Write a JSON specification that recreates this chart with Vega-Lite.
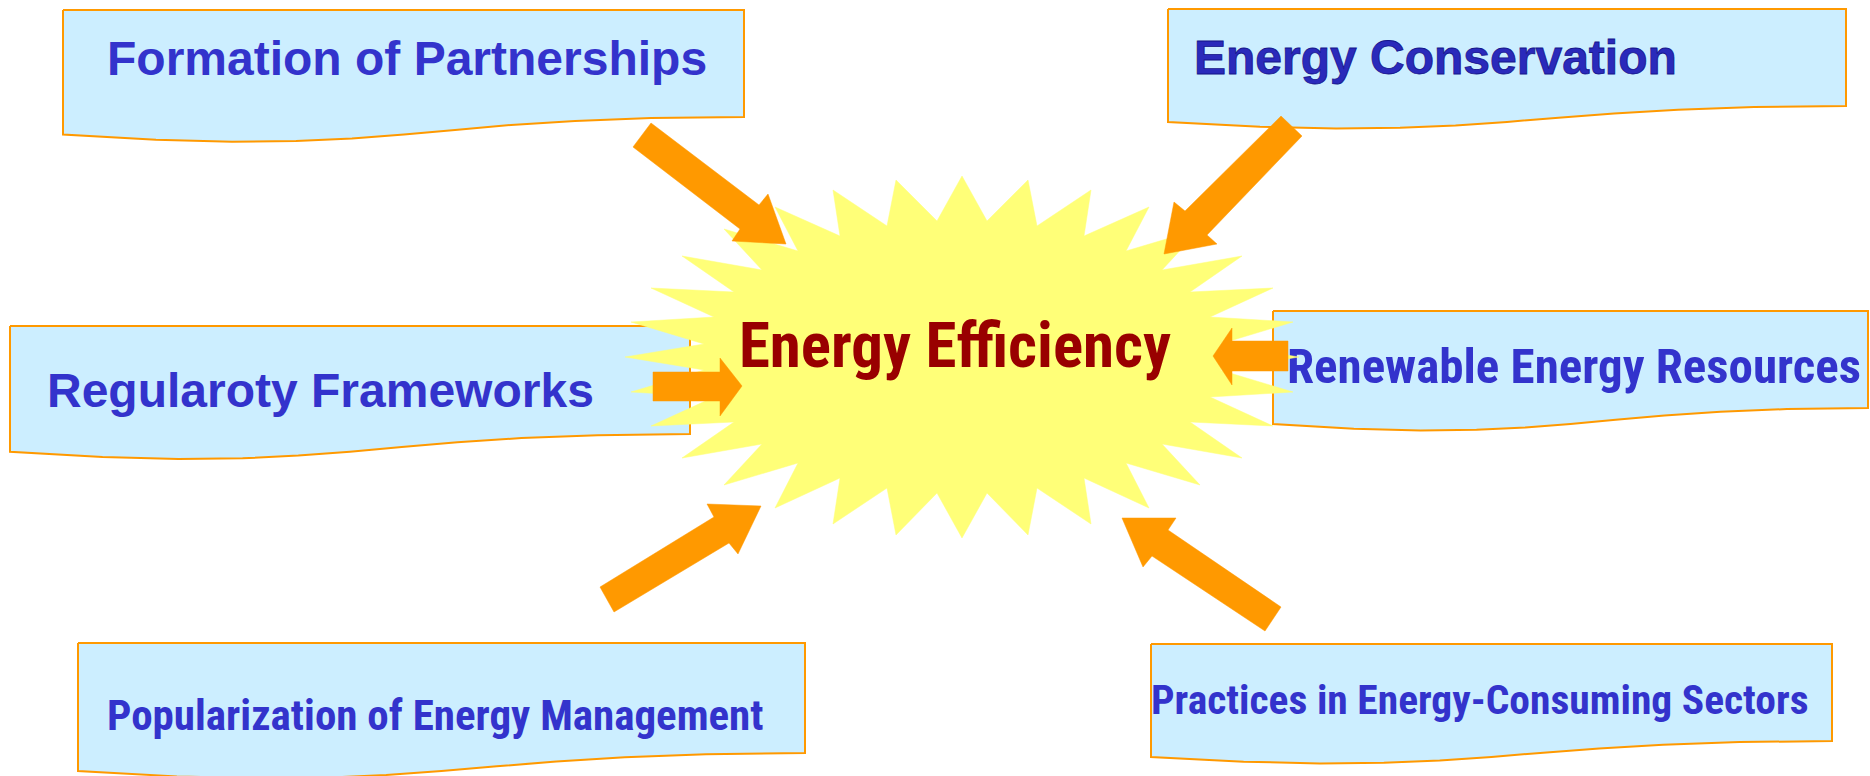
{
  "$schema": "https://vega.github.io/schema/vega-lite/v6.json",
  "width": 1870,
  "height": 776,
  "autosize": {"type": "none"},
  "padding": 0,
  "background": "#ffffff",
  "config": {"view": {"stroke": null}},
  "datasets": {
    "shapes": [
      {"kind":"box","id":"b1","o":0,"x":63,"y":10},{"kind":"box","id":"b1","o":1,"x":744,"y":10},{"kind":"box","id":"b1","o":2,"x":744,"y":117},{"kind":"box","id":"b1","o":3,"x":651,"y":118},{"kind":"box","id":"b1","o":4,"x":575,"y":121},{"kind":"box","id":"b1","o":5,"x":511,"y":125},{"kind":"box","id":"b1","o":6,"x":455,"y":130},{"kind":"box","id":"b1","o":7,"x":404,"y":134.5},{"kind":"box","id":"b1","o":8,"x":352,"y":138.4},{"kind":"box","id":"b1","o":9,"x":296,"y":141},{"kind":"box","id":"b1","o":10,"x":232,"y":141.7},{"kind":"box","id":"b1","o":11,"x":156,"y":139.7},{"kind":"box","id":"b1","o":12,"x":63,"y":134.6},{"kind":"box","id":"b1","o":13,"x":63,"y":10},
      {"kind":"box","id":"b2","o":0,"x":1168,"y":9},{"kind":"box","id":"b2","o":1,"x":1846,"y":9},{"kind":"box","id":"b2","o":2,"x":1846,"y":106},{"kind":"box","id":"b2","o":3,"x":1754,"y":107},{"kind":"box","id":"b2","o":4,"x":1678,"y":109.7},{"kind":"box","id":"b2","o":5,"x":1614,"y":113.5},{"kind":"box","id":"b2","o":6,"x":1558.5,"y":117.7},{"kind":"box","id":"b2","o":7,"x":1507,"y":121.9},{"kind":"box","id":"b2","o":8,"x":1455.5,"y":125.4},{"kind":"box","id":"b2","o":9,"x":1400,"y":127.8},{"kind":"box","id":"b2","o":10,"x":1336,"y":128.4},{"kind":"box","id":"b2","o":11,"x":1260,"y":126.7},{"kind":"box","id":"b2","o":12,"x":1168,"y":122},{"kind":"box","id":"b2","o":13,"x":1168,"y":9},
      {"kind":"box","id":"b3","o":0,"x":10,"y":326},{"kind":"box","id":"b3","o":1,"x":690,"y":326},{"kind":"box","id":"b3","o":2,"x":690,"y":434},{"kind":"box","id":"b3","o":3,"x":597.5,"y":435.2},{"kind":"box","id":"b3","o":4,"x":521.4,"y":438.1},{"kind":"box","id":"b3","o":5,"x":457.4,"y":442.3},{"kind":"box","id":"b3","o":6,"x":401.7,"y":447},{"kind":"box","id":"b3","o":7,"x":350,"y":451.7},{"kind":"box","id":"b3","o":8,"x":298.3,"y":455.6},{"kind":"box","id":"b3","o":9,"x":242.6,"y":458.3},{"kind":"box","id":"b3","o":10,"x":178.6,"y":458.9},{"kind":"box","id":"b3","o":11,"x":102.5,"y":457},{"kind":"box","id":"b3","o":12,"x":10,"y":451.8},{"kind":"box","id":"b3","o":13,"x":10,"y":326},
      {"kind":"box","id":"b4","o":0,"x":1273,"y":311},{"kind":"box","id":"b4","o":1,"x":1868,"y":311},{"kind":"box","id":"b4","o":2,"x":1868,"y":408},{"kind":"box","id":"b4","o":3,"x":1787,"y":409.1},{"kind":"box","id":"b4","o":4,"x":1720.4,"y":411.7},{"kind":"box","id":"b4","o":5,"x":1664.5,"y":415.5},{"kind":"box","id":"b4","o":6,"x":1615.7,"y":419.7},{"kind":"box","id":"b4","o":7,"x":1570.5,"y":423.9},{"kind":"box","id":"b4","o":8,"x":1525.3,"y":427.4},{"kind":"box","id":"b4","o":9,"x":1476.5,"y":429.8},{"kind":"box","id":"b4","o":10,"x":1420.6,"y":430.4},{"kind":"box","id":"b4","o":11,"x":1353.9,"y":428.7},{"kind":"box","id":"b4","o":12,"x":1273,"y":424},{"kind":"box","id":"b4","o":13,"x":1273,"y":311},
      {"kind":"box","id":"b5","o":0,"x":78,"y":643},{"kind":"box","id":"b5","o":1,"x":805,"y":643},{"kind":"box","id":"b5","o":2,"x":805,"y":753},{"kind":"box","id":"b5","o":3,"x":706,"y":754.2},{"kind":"box","id":"b5","o":4,"x":624.7,"y":757.2},{"kind":"box","id":"b5","o":5,"x":556.4,"y":761.4},{"kind":"box","id":"b5","o":6,"x":496.8,"y":766.3},{"kind":"box","id":"b5","o":7,"x":441.5,"y":771},{"kind":"box","id":"b5","o":8,"x":386.2,"y":775},{"kind":"box","id":"b5","o":9,"x":326.6,"y":777.7},{"kind":"box","id":"b5","o":10,"x":258.3,"y":778.4},{"kind":"box","id":"b5","o":11,"x":176.9,"y":776.4},{"kind":"box","id":"b5","o":12,"x":78,"y":771.1},{"kind":"box","id":"b5","o":13,"x":78,"y":643},
      {"kind":"box","id":"b6","o":0,"x":1151,"y":644},{"kind":"box","id":"b6","o":1,"x":1832,"y":644},{"kind":"box","id":"b6","o":2,"x":1832,"y":741},{"kind":"box","id":"b6","o":3,"x":1739.4,"y":742.1},{"kind":"box","id":"b6","o":4,"x":1663.1,"y":744.7},{"kind":"box","id":"b6","o":5,"x":1599.1,"y":748.5},{"kind":"box","id":"b6","o":6,"x":1543.3,"y":752.7},{"kind":"box","id":"b6","o":7,"x":1491.5,"y":756.9},{"kind":"box","id":"b6","o":8,"x":1439.7,"y":760.4},{"kind":"box","id":"b6","o":9,"x":1383.9,"y":762.8},{"kind":"box","id":"b6","o":10,"x":1319.9,"y":763.4},{"kind":"box","id":"b6","o":11,"x":1243.6,"y":761.7},{"kind":"box","id":"b6","o":12,"x":1151,"y":757},{"kind":"box","id":"b6","o":13,"x":1151,"y":644},
      {"kind":"star","id":"s","o":0,"x":962,"y":176},{"kind":"star","id":"s","o":1,"x":987,"y":221},{"kind":"star","id":"s","o":2,"x":1028,"y":180},{"kind":"star","id":"s","o":3,"x":1037,"y":226},{"kind":"star","id":"s","o":4,"x":1091,"y":190},{"kind":"star","id":"s","o":5,"x":1084,"y":236},{"kind":"star","id":"s","o":6,"x":1149,"y":207},{"kind":"star","id":"s","o":7,"x":1126,"y":251},{"kind":"star","id":"s","o":8,"x":1200,"y":229},{"kind":"star","id":"s","o":9,"x":1162,"y":270},{"kind":"star","id":"s","o":10,"x":1242,"y":256},{"kind":"star","id":"s","o":11,"x":1190,"y":292},{"kind":"star","id":"s","o":12,"x":1273,"y":288},{"kind":"star","id":"s","o":13,"x":1210,"y":317},{"kind":"star","id":"s","o":14,"x":1293,"y":322},{"kind":"star","id":"s","o":15,"x":1220,"y":344},{"kind":"star","id":"s","o":16,"x":1299,"y":357},{"kind":"star","id":"s","o":17,"x":1220,"y":370},{"kind":"star","id":"s","o":18,"x":1293,"y":392},{"kind":"star","id":"s","o":19,"x":1210,"y":397},{"kind":"star","id":"s","o":20,"x":1273,"y":426},{"kind":"star","id":"s","o":21,"x":1190,"y":422},{"kind":"star","id":"s","o":22,"x":1242,"y":458},{"kind":"star","id":"s","o":23,"x":1162,"y":444},{"kind":"star","id":"s","o":24,"x":1200,"y":485},{"kind":"star","id":"s","o":25,"x":1126,"y":463},{"kind":"star","id":"s","o":26,"x":1149,"y":508},{"kind":"star","id":"s","o":27,"x":1084,"y":478},{"kind":"star","id":"s","o":28,"x":1091,"y":524},{"kind":"star","id":"s","o":29,"x":1037,"y":488},{"kind":"star","id":"s","o":30,"x":1028,"y":535},{"kind":"star","id":"s","o":31,"x":987,"y":493},{"kind":"star","id":"s","o":32,"x":962,"y":538},{"kind":"star","id":"s","o":33,"x":937,"y":493},{"kind":"star","id":"s","o":34,"x":896,"y":535},{"kind":"star","id":"s","o":35,"x":887,"y":488},{"kind":"star","id":"s","o":36,"x":833,"y":524},{"kind":"star","id":"s","o":37,"x":840,"y":478},{"kind":"star","id":"s","o":38,"x":775,"y":508},{"kind":"star","id":"s","o":39,"x":798,"y":463},{"kind":"star","id":"s","o":40,"x":724,"y":485},{"kind":"star","id":"s","o":41,"x":762,"y":444},{"kind":"star","id":"s","o":42,"x":682,"y":458},{"kind":"star","id":"s","o":43,"x":734,"y":422},{"kind":"star","id":"s","o":44,"x":651,"y":426},{"kind":"star","id":"s","o":45,"x":714,"y":397},{"kind":"star","id":"s","o":46,"x":631,"y":392},{"kind":"star","id":"s","o":47,"x":704,"y":370},{"kind":"star","id":"s","o":48,"x":625,"y":357},{"kind":"star","id":"s","o":49,"x":704,"y":344},{"kind":"star","id":"s","o":50,"x":631,"y":322},{"kind":"star","id":"s","o":51,"x":714,"y":317},{"kind":"star","id":"s","o":52,"x":651,"y":288},{"kind":"star","id":"s","o":53,"x":734,"y":292},{"kind":"star","id":"s","o":54,"x":682,"y":256},{"kind":"star","id":"s","o":55,"x":762,"y":270},{"kind":"star","id":"s","o":56,"x":724,"y":229},{"kind":"star","id":"s","o":57,"x":798,"y":251},{"kind":"star","id":"s","o":58,"x":775,"y":207},{"kind":"star","id":"s","o":59,"x":840,"y":236},{"kind":"star","id":"s","o":60,"x":833,"y":190},{"kind":"star","id":"s","o":61,"x":887,"y":226},{"kind":"star","id":"s","o":62,"x":896,"y":180},{"kind":"star","id":"s","o":63,"x":937,"y":221},{"kind":"star","id":"s","o":64,"x":962,"y":176},
      {"kind":"arrow","id":"a1","o":0,"x":651,"y":123},{"kind":"arrow","id":"a1","o":1,"x":759,"y":205},{"kind":"arrow","id":"a1","o":2,"x":768,"y":194},{"kind":"arrow","id":"a1","o":3,"x":786,"y":244},{"kind":"arrow","id":"a1","o":4,"x":732,"y":241},{"kind":"arrow","id":"a1","o":5,"x":740,"y":229},{"kind":"arrow","id":"a1","o":6,"x":633,"y":147},{"kind":"arrow","id":"a1","o":7,"x":651,"y":123},
      {"kind":"arrow","id":"a2","o":0,"x":1281,"y":116},{"kind":"arrow","id":"a2","o":1,"x":1302,"y":136},{"kind":"arrow","id":"a2","o":2,"x":1207,"y":235},{"kind":"arrow","id":"a2","o":3,"x":1217,"y":244},{"kind":"arrow","id":"a2","o":4,"x":1164,"y":254},{"kind":"arrow","id":"a2","o":5,"x":1174,"y":202},{"kind":"arrow","id":"a2","o":6,"x":1185,"y":211},{"kind":"arrow","id":"a2","o":7,"x":1281,"y":116},
      {"kind":"arrow","id":"a3","o":0,"x":653,"y":372},{"kind":"arrow","id":"a3","o":1,"x":720,"y":372},{"kind":"arrow","id":"a3","o":2,"x":720,"y":358},{"kind":"arrow","id":"a3","o":3,"x":742,"y":386},{"kind":"arrow","id":"a3","o":4,"x":720,"y":416},{"kind":"arrow","id":"a3","o":5,"x":720,"y":401},{"kind":"arrow","id":"a3","o":6,"x":653,"y":401},{"kind":"arrow","id":"a3","o":7,"x":653,"y":372},
      {"kind":"arrow","id":"a4","o":0,"x":1288,"y":341},{"kind":"arrow","id":"a4","o":1,"x":1232,"y":341},{"kind":"arrow","id":"a4","o":2,"x":1232,"y":328},{"kind":"arrow","id":"a4","o":3,"x":1213,"y":356},{"kind":"arrow","id":"a4","o":4,"x":1232,"y":385},{"kind":"arrow","id":"a4","o":5,"x":1232,"y":371},{"kind":"arrow","id":"a4","o":6,"x":1288,"y":371},{"kind":"arrow","id":"a4","o":7,"x":1288,"y":341},
      {"kind":"arrow","id":"a5","o":0,"x":600,"y":587},{"kind":"arrow","id":"a5","o":1,"x":714,"y":517},{"kind":"arrow","id":"a5","o":2,"x":707,"y":504},{"kind":"arrow","id":"a5","o":3,"x":761,"y":506},{"kind":"arrow","id":"a5","o":4,"x":738,"y":554},{"kind":"arrow","id":"a5","o":5,"x":729,"y":543},{"kind":"arrow","id":"a5","o":6,"x":614,"y":612},{"kind":"arrow","id":"a5","o":7,"x":600,"y":587},
      {"kind":"arrow","id":"a6","o":0,"x":1122,"y":518},{"kind":"arrow","id":"a6","o":1,"x":1176,"y":518},{"kind":"arrow","id":"a6","o":2,"x":1168,"y":530},{"kind":"arrow","id":"a6","o":3,"x":1281,"y":607},{"kind":"arrow","id":"a6","o":4,"x":1265,"y":631},{"kind":"arrow","id":"a6","o":5,"x":1152,"y":556},{"kind":"arrow","id":"a6","o":6,"x":1143,"y":567},{"kind":"arrow","id":"a6","o":7,"x":1122,"y":518}
    ],
    "labels": [
      {"id":"t1","label":"Formation of Partnerships","x":107,"y":75},
      {"id":"t2","label":"Energy Conservation","x":1194,"y":74},
      {"id":"t3","label":"Regularoty Frameworks","x":47,"y":407},
      {"id":"t4","label":"Renewable Energy Resources","x":1287,"y":383},
      {"id":"t5","label":"Popularization of Energy Management","x":107,"y":730},
      {"id":"t6","label":"Practices in Energy-Consuming Sectors","x":1151,"y":714},
      {"id":"title","label":"Energy Efficiency","x":955,"y":367}
    ]
  },
  "encoding": {
    "x": {"field": "x", "type": "quantitative", "axis": null, "scale": {"domain": [0, 1870], "nice": false, "zero": false}},
    "y": {"field": "y", "type": "quantitative", "axis": null, "scale": {"domain": [0, 776], "nice": false, "zero": false, "reverse": true}}
  },
  "layer": [
    {
      "data": {"name": "shapes"},
      "transform": [{"filter": "datum.kind == 'box'"}],
      "mark": {"type": "line", "fill": "#CCEEFF", "stroke": "#FF9900", "strokeWidth": 2, "strokeJoin": "miter"},
      "encoding": {"detail": {"field": "id"}, "order": {"field": "o", "type": "quantitative"}}
    },
    {
      "data": {"name": "labels"},
      "transform": [{"filter": "datum.id == 't1' || datum.id == 't3'"}],
      "mark": {"type": "text", "align": "left", "baseline": "alphabetic", "font": "Liberation Sans", "fontWeight": "bold", "fontSize": 48, "fill": "#3333CC"},
      "encoding": {"text": {"field": "label"}}
    },
    {
      "data": {"name": "labels"},
      "transform": [{"filter": "datum.id == 't2'"}],
      "mark": {"type": "text", "align": "left", "baseline": "alphabetic", "font": "Liberation Sans", "fontWeight": "bold", "fontSize": 48, "fill": "#2A2ABB", "stroke": "#15158C", "strokeWidth": 0.8},
      "encoding": {"text": {"field": "label"}}
    },
    {
      "data": {"name": "labels"},
      "transform": [{"filter": "datum.id == 't4'"}],
      "mark": {"type": "text", "align": "left", "baseline": "alphabetic", "font": "Roboto Condensed", "fontWeight": "bold", "fontSize": 49, "fill": "#3333CC"},
      "encoding": {"text": {"field": "label"}}
    },
    {
      "data": {"name": "labels"},
      "transform": [{"filter": "datum.id == 't5'"}],
      "mark": {"type": "text", "align": "left", "baseline": "alphabetic", "font": "Roboto Condensed", "fontWeight": "bold", "fontSize": 43, "fill": "#3333CC"},
      "encoding": {"text": {"field": "label"}}
    },
    {
      "data": {"name": "labels"},
      "transform": [{"filter": "datum.id == 't6'"}],
      "mark": {"type": "text", "align": "left", "baseline": "alphabetic", "font": "Roboto Condensed", "fontWeight": "bold", "fontSize": 41.5, "fill": "#3333CC"},
      "encoding": {"text": {"field": "label"}}
    },
    {
      "data": {"name": "shapes"},
      "transform": [{"filter": "datum.kind == 'star'"}],
      "mark": {"type": "line", "fill": "#FFFF78", "stroke": "#FFFF78", "strokeWidth": 0.5, "strokeJoin": "miter"},
      "encoding": {"detail": {"field": "id"}, "order": {"field": "o", "type": "quantitative"}}
    },
    {
      "data": {"name": "shapes"},
      "transform": [{"filter": "datum.kind == 'arrow'"}],
      "mark": {"type": "line", "fill": "#FF9900", "stroke": "#FF9900", "strokeWidth": 0.5, "strokeJoin": "miter"},
      "encoding": {"detail": {"field": "id"}, "order": {"field": "o", "type": "quantitative"}}
    },
    {
      "data": {"name": "labels"},
      "transform": [{"filter": "datum.id == 'title'"}],
      "mark": {"type": "text", "align": "center", "baseline": "alphabetic", "font": "Roboto Condensed", "fontWeight": "bold", "fontSize": 63, "fill": "#990000"},
      "encoding": {"text": {"field": "label"}}
    }
  ]
}
